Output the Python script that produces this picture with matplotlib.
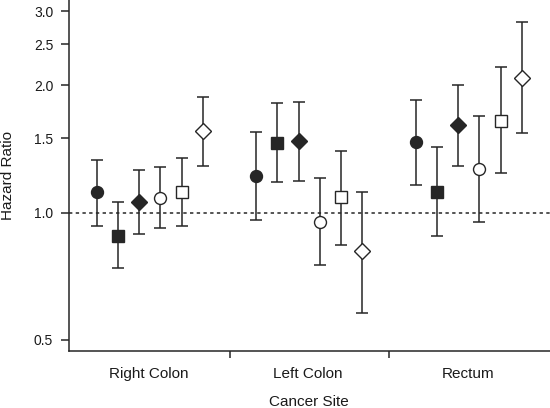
import numpy as np
import matplotlib.pyplot as plt

# Cancer sites and hazard ratios (with 95% CI) for the six series
sites = ["Right Colon", "Left Colon", "Rectum"]

hr = [
    [1.12, 1.22, 1.47],   # filled circle
    [0.88, 1.46, 1.12],   # filled square
    [1.06, 1.48, 1.61],   # filled diamond
    [1.08, 0.95, 1.27],   # open circle
    [1.12, 1.09, 1.65],   # open square
    [1.56, 0.81, 2.08],   # open diamond
]
ci_low = [
    [0.93, 0.96, 1.16],
    [0.74, 1.18, 0.88],
    [0.89, 1.19, 1.29],
    [0.92, 0.75, 0.95],
    [0.93, 0.84, 1.24],
    [1.29, 0.58, 1.54],
]
ci_high = [
    [1.33, 1.55, 1.85],
    [1.06, 1.82, 1.43],
    [1.26, 1.83, 2.00],
    [1.28, 1.21, 1.69],
    [1.35, 1.40, 2.21],
    [1.88, 1.12, 2.83],
]

markers = ['o', 's', 'D', 'o', 's', 'D']
filled = [True, True, True, False, False, False]
yticks = [0.5, 1.0, 1.5, 2.0, 2.5, 3.0]

plt.rcParams['font.family'] = ['Liberation Sans', 'DejaVu Sans']
ink = '#262626'
txt = '#1a1a1a'

fig = plt.figure(figsize=(5.5, 4.08), dpi=100)
ax = fig.add_axes([68.5 / 550, 0.1404, 481.5 / 550, 0.8596])

step = 0.1333
for k in range(len(hr)):
    x = np.arange(len(sites)) + (k - 2.5) * step
    y = np.array(hr[k])
    yerr = [y - np.array(ci_low[k]), np.array(ci_high[k]) - y]
    ax.errorbar(x, y, yerr=yerr, fmt='none', ecolor=ink, elinewidth=1.1,
                capsize=4.3, capthick=1.1, zorder=2)
    ms = 8.0 if markers[k] == 'D' else 8.6
    ax.plot(x, y, linestyle='none', marker=markers[k], markersize=ms,
            markerfacecolor=ink if filled[k] else 'white',
            markeredgecolor=ink, markeredgewidth=1.0, zorder=3)

ax.axhline(1.0, color=ink, linestyle=(0, (2.2, 2.2)), linewidth=1.1, zorder=1)

ax.set_yscale('log')
ax.set_ylim(0.471, 3.186)
ax.set_xlim(-0.51, 2.51)
ax.set_yticks(yticks)
ax.set_yticklabels(['%.1f' % t for t in yticks])
ax.minorticks_off()

# group boundaries as major ticks, site names as minor tick labels
ax.set_xticks([0.5, 1.5])
ax.set_xticklabels([])
ax.set_xticks(np.arange(len(sites)) - 0.007, minor=True)
ax.set_xticklabels(sites, minor=True)
ax.tick_params(axis='x', which='major', length=5, width=1.1, color=ink)
ax.tick_params(axis='x', which='minor', length=0, pad=12, labelsize=11, labelcolor=txt)
ax.tick_params(axis='y', length=6, width=1.1, color=ink, pad=5, labelsize=10, labelcolor=txt)

for side in ['top', 'right']:
    ax.spines[side].set_visible(False)
for side in ['left', 'bottom']:
    ax.spines[side].set_linewidth(1.1)
    ax.spines[side].set_color(ink)

ax.set_ylabel('Hazard Ratio', fontsize=11, color=txt)
ax.yaxis.set_label_coords(-(68.5 - 15) / 481.5, 0.5)
ax.set_xlabel('Cancer Site', fontsize=11, color=txt)
ax.xaxis.set_label_coords(0.5, -(394.5 - 350.7) / 350.7)

fig.savefig('out.png', dpi=100)
